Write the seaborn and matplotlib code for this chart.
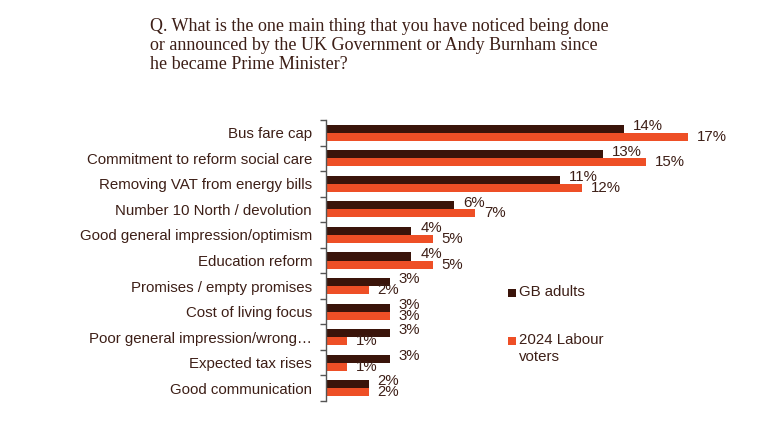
import matplotlib
matplotlib.use("Agg")
import matplotlib.pyplot as plt
import seaborn as sns
import pandas as pd
from matplotlib.patches import Rectangle

categories = [
    "Bus fare cap",
    "Commitment to reform social care",
    "Removing VAT from energy bills",
    "Number 10 North / devolution",
    "Good general impression/optimism",
    "Education reform",
    "Promises / empty promises",
    "Cost of living focus",
    "Poor general impression/wrong\u2026",
    "Expected tax rises",
    "Good communication",
]
gb_adults = [14, 13, 11, 6, 4, 4, 3, 3, 3, 3, 2]
labour_voters = [17, 15, 12, 7, 5, 5, 2, 3, 1, 1, 2]
series_names = ["GB adults", "2024 Labour voters"]
legend_labels = ["GB adults", "2024 Labour\nvoters"]

title = ("Q. What is the one main thing that you have noticed being done\n"
         "or announced by the UK Government or Andy Burnham since\n"
         "he became Prime Minister?")

C_GB = "#3A140A"
C_LAB = "#EE4F26"
TXT = "#3D1F17"

df = pd.DataFrame({
    "category": categories * 2,
    "value": gb_adults + labour_voters,
    "series": [series_names[0]] * len(categories) + [series_names[1]] * len(categories),
})

sns.set_theme(style="white")
plt.rcParams["font.family"] = ["Liberation Sans", "DejaVu Sans"]

fig = plt.figure(figsize=(7.68, 4.42), dpi=100)
ax = fig.add_axes([326 / 768, 1 - 401 / 442, (752 - 326) / 768, (401 - 120) / 442])

sns.barplot(data=df, y="category", x="value", hue="series", orient="h",
            palette=[C_GB, C_LAB], width=0.63, ax=ax, legend=False,
            saturation=1, linewidth=0)

ax.set_xlim(0, 20)
ax.set_ylim(len(categories) - 0.5, -0.5)
ax.set_xlabel("")
ax.set_ylabel("")
ax.set_xticks([])
for s in ["top", "right", "bottom"]:
    ax.spines[s].set_visible(False)
ax.spines["left"].set_color("#555555")
ax.spines["left"].set_linewidth(1.0)

FS = 10.8

# category labels centred, ticks at boundaries
ax.set_yticks(range(len(categories)))
ax.set_yticklabels(categories, fontsize=FS, color=TXT)
ax.tick_params(axis="y", which="major", length=0, pad=10)
ax.set_yticks([i - 0.5 for i in range(len(categories) + 1)], minor=True)
ax.tick_params(axis="y", which="minor", length=4, width=1.0, color="#555555", left=True)

# value labels
for cont, dy in zip(ax.containers, [2.0, 0.0]):
    for bar in cont:
        w = bar.get_width()
        yc = bar.get_y() + bar.get_height() / 2
        ax.annotate(f"{w:.0f}%", (w, yc), xytext=(6.5, dy), textcoords="offset points",
                    ha="left", va="center", fontsize=FS, color=TXT)

# title
fig.text(150 / 768, 1 - 18 / 442, title, ha="left", va="top", fontsize=13.0,
         family=["Liberation Serif", "DejaVu Serif"], color=TXT, linespacing=1.15)

# legend
for (ycen, col, lab) in [(293, C_GB, legend_labels[0]), (341, C_LAB, legend_labels[1])]:
    fig.patches.append(Rectangle((508 / 768, 1 - (ycen + 4) / 442), 8 / 768, 8 / 442,
                                 transform=fig.transFigure, facecolor=col, edgecolor="none"))
    fig.text(519 / 768, 1 - (ycen - 8) / 442, lab, ha="left", va="top", fontsize=FS,
             color=TXT, linespacing=1.25)

fig.savefig("out.png", dpi=100, facecolor="white")
